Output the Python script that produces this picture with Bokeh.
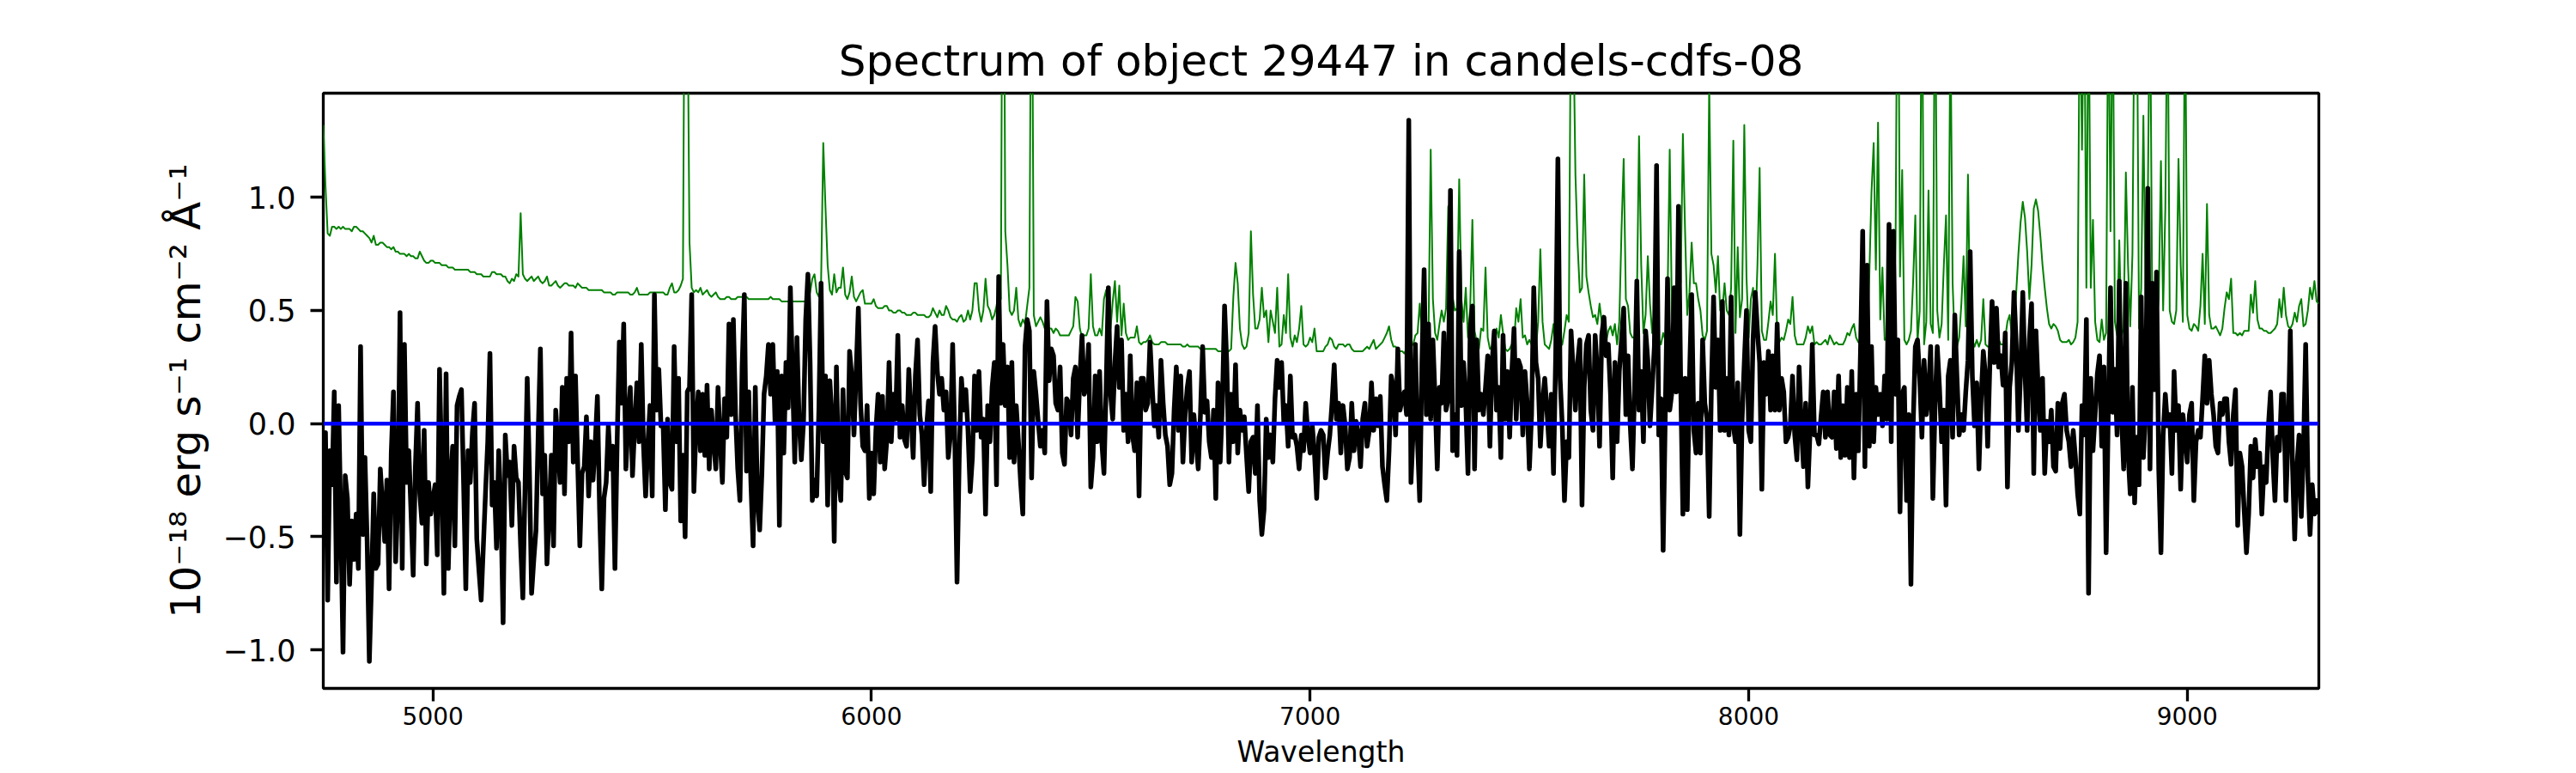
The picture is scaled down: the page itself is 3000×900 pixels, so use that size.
import numpy as np
from bokeh.plotting import figure
from bokeh.models import Range1d, FixedTicker, CustomJSTickFormatter
from bokeh.embed import file_html
from bokeh.resources import INLINE

TITLE = "Spectrum of object 29447 in candels-cdfs-08"
X_LABEL = "Wavelength"
Y_LABEL = "10\u207b\u00b9\u2078 erg s\u207b\u00b9 cm\u207b\u00b2 \u00c5\u207b\u00b9"
X_TICKS = [5000, 6000, 7000, 8000, 9000]
Y_TICKS = [-1.0, -0.5, 0.0, 0.5, 1.0]

# wavelength grid of the extracted spectrum (Angstrom)
WAVE_START = 4750.0
WAVE_STEP = 5.0

# ---- object flux (black), by wavelength block ----
flux_4750 = [-0.40, -0.04, -0.78, -0.12, -0.27, 0.14, -0.70, 0.08, -0.43, -1.01,
             -0.23, -0.33, -0.71, -0.43, -0.60, -0.40, -0.64, 0.34, -0.49, -0.15,
             -0.52, -1.05, -0.70, -0.31, -0.64, -0.62, -0.20, -0.36, -0.52, -0.25,
             -0.73, -0.13, 0.14, -0.61, -0.34, 0.49, -0.64, 0.35, -0.26, -0.12,
             -0.39, -0.67, -0.19, 0.09, -0.31, -0.44, -0.03, -0.62, -0.26, -0.40,
             -0.33, -0.27, -0.58, 0.24, -0.19, -0.75, 0.22, -0.64, -0.26, -0.10,
             -0.54, 0.08, 0.12, 0.15, -0.27, -0.73, -0.12, -0.26, -0.04, 0.09,
             -0.51, -0.65, -0.78, -0.54, -0.30, -0.08, 0.31, -0.36, -0.26, -0.55,
             -0.12, -0.37, -0.88, -0.05, -0.23, -0.17, -0.45, -0.10, -0.24, -0.26,
             -0.54, -0.77, -0.28, 0.20, -0.21, -0.75, -0.60, -0.47, -0.05, 0.33,
             -0.31, -0.14, -0.62, -0.40, -0.14, -0.54, 0.06, -0.10, -0.26, 0.16,
             -0.31, 0.20, -0.08, 0.40, -0.17]
flux_5325 = [0.21, -0.17, -0.54, -0.22, -0.19, 0.03, -0.32, -0.08, -0.25, -0.09,
             0.12, -0.38, -0.73, -0.33, -0.26, -0.01, -0.20, -0.10, -0.64, -0.08,
             0.36, 0.09, 0.44, -0.20, 0.01, 0.16, -0.23, -0.01, 0.18, -0.08,
             0.35, -0.09, -0.32, -0.09, 0.08, -0.32, 0.57, 0.06, 0.24, -0.01,
             -0.01, -0.38, 0.02, -0.26, -0.29, 0.34, -0.08, 0.20, -0.43, -0.14,
             -0.50, 0.14, 0.16, 0.57, -0.30, -0.01, 0.14, -0.12, 0.13, -0.14,
             0.17, -0.20, 0.06, -0.08, -0.20, 0.16, -0.08, -0.26, 0.11, -0.06,
             0.44, 0.04, 0.46, 0.04, -0.20, -0.34, 0.25, 0.57, -0.21, 0.14,
             -0.26, -0.54, 0.16, -0.34, -0.47, -0.22, 0.13, 0.21, 0.35, 0.13,
             0.35, 0.01, 0.23, -0.45, 0.21, -0.13, 0.27, 0.07, 0.60, 0.20,
             -0.17, 0.38, 0.01, -0.16, 0.01, 0.46, 0.66, 0.27, -0.34, -0.25,
             -0.32, 0.06, 0.62, -0.08]
flux_5895 = [0.21, -0.36, 0.19, 0.02, -0.52, 0.25, -0.24, -0.34, 0.15, -0.21,
             -0.24, 0.32, 0.21, -0.05, 0.23, 0.51, 0.09, -0.10, -0.12, 0.08,
             -0.33, -0.13, -0.31, -0.03, 0.13, -0.17, 0.12, -0.20, -0.07, 0.27,
             -0.08, 0.13, 0.02, 0.39, -0.06, 0.08, -0.07, -0.10, 0.24, 0.04,
             -0.15, 0.21, 0.37, 0.04, -0.05, -0.27, -0.03, 0.10, -0.30, 0.27,
             0.43, 0.23, 0.13, 0.20, 0.06, 0.14, -0.15, -0.05, 0.35, -0.08,
             -0.70, -0.15, 0.20, 0.06, 0.15, -0.03, -0.30, -0.15, 0.21, -0.03,
             0.23, -0.06, 0.02, -0.40, 0.08, -0.08, 0.16, 0.27, -0.27, 0.65,
             0.09, 0.35, 0.08, 0.25, -0.15, 0.27, -0.17, 0.08, -0.08, -0.26,
             -0.40, 0.34, 0.46, 0.41, -0.24, 0.23, 0.13, 0.01, -0.10, -0.03,
             -0.13, 0.54, 0.19, 0.33, 0.30, 0.09, 0.06, 0.25, -0.13, -0.18,
             0.11, 0.09, -0.05, 0.20]
flux_6465 = [0.25, -0.06, 0.20, 0.39, 0.13, 0.16, 0.35, -0.28, -0.15, 0.21,
             -0.08, 0.23, -0.08, -0.22, 0.16, 0.60, 0.13, 0.02, 0.27, 0.43,
             0.16, 0.37, -0.03, 0.13, -0.08, 0.30, -0.05, -0.12, 0.18, -0.32,
             0.20, 0.20, 0.06, 0.09, 0.36, 0.16, -0.01, 0.08, -0.06, 0.28,
             0.09, -0.05, -0.10, -0.27, -0.22, 0.06, 0.25, -0.03, 0.21, -0.17,
             0.04, 0.16, 0.23, -0.17, 0.04, -0.08, -0.20, 0.04, 0.34, 0.05,
             0.10, -0.08, -0.15, 0.06, -0.33, 0.18, -0.17, 0.09, 0.52, 0.27,
             -0.17, 0.13, -0.08, 0.26, -0.13, 0.06, -0.03, 0.03, -0.14, -0.30,
             -0.08, -0.06, -0.22, 0.08, -0.34, -0.49, -0.38, 0.02, -0.15, -0.05,
             -0.17, 0.11, 0.28, 0.16, 0.27, 0.01, 0.08, -0.10, 0.21, -0.06,
             -0.05, -0.10, -0.20, -0.05, -0.12, 0.09, -0.05, -0.13, -0.01, -0.13,
             -0.33, -0.06, -0.03]
flux_7030 = [-0.05, -0.24, -0.13, -0.05, 0.09, 0.26, 0.02, 0.09, -0.13, 0.08,
             -0.01, -0.20, -0.15, 0.09, -0.12, 0.01, -0.05, -0.19, 0.02, 0.09,
             -0.10, -0.03, 0.18, -0.03, 0.11, -0.01, 0.12, -0.19, -0.27, -0.34,
             -0.12, 0.21, 0.16, -0.05, 0.33, 0.06, 0.11, 0.14, 0.04, 1.34,
             -0.26, -0.03, 0.35, -0.08, -0.34, 0.27, 0.68, 0.04, 0.44, 0.02,
             0.37, 0.11, -0.20, 0.16, 0.09, 0.40, 0.06, 0.11, 1.03, -0.12,
             0.04, -0.14, 0.76, 0.08, 0.27, 0.09, -0.22, 0.41, 0.52, -0.20,
             0.37, 0.06, 0.13, 0.04, 0.16, 0.30, -0.10, 0.27, 0.41, 0.06,
             0.16, -0.15, 0.39, 0.02, 0.23, -0.06, 0.23, 0.42, 0.02, 0.28,
             0.25, -0.05, 0.23, 0.09, -0.20, 0.04, 0.60, 0.27, 0.20, -0.10,
             0.09, 0.20, 0.06, -0.10, 0.13, -0.22, 0.30, 1.17, 0.20, -0.01,
             -0.34, -0.08, -0.15, 0.41]
flux_7600 = [0.23, 0.06, 0.27, 0.37, -0.36, 0.16, 0.35, 0.39, 0.06, -0.03,
             0.39, 0.23, -0.10, 0.39, 0.47, 0.30, 0.35, 0.13, -0.24, 0.27,
             -0.08, 0.23, 0.37, 0.51, 0.04, 0.30, -0.01, -0.20, 0.16, 0.63,
             0.06, 0.23, -0.08, 0.41, 0.28, -0.01, 0.16, 0.34, 1.14, -0.05,
             0.11, -0.56, 0.06, 0.64, 0.06, 0.14, 0.60, 0.14, 0.96, 0.18,
             -0.40, 0.20, -0.38, 0.20, 0.57, -0.03, -0.13, 0.09, -0.13, 0.37,
             0.09, 0.02, -0.41, 0.16, 0.56, 0.16, 0.37, -0.03, 0.54, -0.03,
             0.20, -0.05, 0.56, -0.01, -0.08, 0.18, -0.49, 0.02, 0.27, 0.50,
             -0.03, -0.08, 0.37, 0.58, 0.41, 0.27, -0.29, 0.27, 0.13, 0.32,
             0.06, 0.30, 0.06, 0.44, 0.06, 0.20, 0.14, -0.08, -0.06, -0.01,
             0.21, -0.05, -0.16, 0.25, -0.01, -0.19, 0.09, -0.28, -0.03, 0.35,
             -0.05, -0.05, -0.09]
flux_8165 = [0.03, 0.14, -0.06, 0.14, -0.05, -0.06, 0.14, -0.11, 0.21, -0.15,
             0.08, -0.14, 0.16, -0.15, 0.23, -0.24, 0.13, -0.12, 0.32, 0.85,
             -0.19, 0.70, -0.10, 0.34, -0.08, 0.16, 0.04, 0.13, -0.01, 0.21,
             0.02, 0.88, -0.08, 0.85, 0.13, 0.37, -0.39, 0.13, 0.16, -0.34,
             0.04, -0.71, -0.01, 0.34, 0.37, 0.20, -0.06, 0.28, 0.04, 0.13,
             0.34, -0.33, 0.08, 0.34, 0.16, -0.08, 0.06, -0.36, 0.21, 0.28,
             -0.06, 0.48, 0.20, -0.05, 0.04, -0.03, 0.14, 0.28, 0.76, 0.21,
             -0.01, 0.18, -0.20, 0.11, 0.32, 0.21, -0.10, 0.27, 0.54, 0.27,
             0.51, 0.25, 0.30, 0.17, 0.40, -0.28, 0.16, 0.27, 0.58, 0.35,
             -0.03, 0.23, 0.58, 0.23, -0.03, 0.37, 0.53, -0.22, 0.41, 0.16,
             -0.03, 0.20, -0.22, 0.01, -0.08, 0.06, -0.19, -0.21, 0.09, -0.11,
             0.09, 0.13, -0.03, -0.08, -0.19, -0.03, -0.15, -0.31, -0.40, 0.08,
             -0.05, 0.46]
flux_8775 = [-0.75, 0.20, -0.12, 0.04, 0.22, 0.30, -0.10, 0.25, -0.57, 0.06,
             0.60, 0.05, 0.24, -0.05, 0.63, 0.04, -0.20, 0.62, -0.13, -0.31,
             0.16, -0.35, -0.06, -0.27, 0.56, -0.15, 0.06, 1.04, -0.20, 0.62,
             0.15, 0.67, -0.20, -0.57, -0.05, 0.13, -0.01, 0.04, -0.22, 0.23,
             -0.03, 0.08, -0.29, 0.04, -0.05, -0.17, 0.04, 0.09, -0.34, -0.08,
             -0.03, -0.06, 0.11, 0.30, 0.09, 0.28, 0.13, 0.04, -0.10, -0.13,
             0.09, 0.04, 0.11, 0.11, -0.08, -0.18, 0.04, 0.15, -0.45, -0.13,
             -0.19, -0.39, -0.57, -0.40, -0.10, -0.24, -0.07, -0.19, -0.13, -0.40,
             -0.19, -0.26, -0.01, 0.14, -0.15, -0.34, -0.06, -0.12, 0.13, 0.13,
             -0.34, -0.05, 0.41, -0.19, -0.51, -0.19, -0.05, -0.41, -0.12, 0.35,
             -0.24, -0.49, -0.27, -0.40, -0.34, -0.40]

# ---- noise / sky spectrum (green) ----
noise_4750 = [1.32, 1.05, 0.84, 0.83, 0.87, 0.87, 0.86, 0.87, 0.86, 0.87,
              0.86, 0.86, 0.86, 0.85, 0.87, 0.87, 0.86, 0.85, 0.85, 0.84,
              0.83, 0.82, 0.80, 0.83, 0.79, 0.79, 0.80, 0.80, 0.79, 0.78,
              0.78, 0.77, 0.78, 0.76, 0.76, 0.75, 0.75, 0.75, 0.74, 0.75,
              0.74, 0.74, 0.73, 0.73, 0.76, 0.74, 0.72, 0.71, 0.71, 0.72,
              0.72, 0.71, 0.71, 0.71, 0.70, 0.70, 0.70, 0.69, 0.69, 0.69,
              0.68, 0.68, 0.68, 0.68, 0.68, 0.68, 0.68, 0.67, 0.67, 0.67,
              0.66, 0.66, 0.66, 0.65, 0.65, 0.65, 0.65, 0.67, 0.67, 0.66,
              0.66, 0.66, 0.65, 0.65, 0.63, 0.62, 0.64, 0.63, 0.66, 0.65,
              0.93, 0.66, 0.64, 0.63, 0.64, 0.65, 0.63, 0.64, 0.65, 0.63,
              0.62, 0.63, 0.65, 0.61, 0.61, 0.62, 0.63, 0.61, 0.60, 0.61,
              0.62, 0.62, 0.61, 0.61, 0.61]
noise_5325 = [0.60, 0.62, 0.61, 0.60, 0.60, 0.60, 0.59, 0.59, 0.59, 0.59,
              0.59, 0.59, 0.59, 0.58, 0.58, 0.58, 0.58, 0.57, 0.57, 0.58,
              0.58, 0.58, 0.58, 0.58, 0.58, 0.57, 0.57, 0.58, 0.60, 0.57,
              0.57, 0.57, 0.57, 0.57, 0.58, 0.58, 0.58, 0.58, 0.58, 0.58,
              0.58, 0.57, 0.57, 0.60, 0.62, 0.58, 0.58, 0.59, 0.61, 0.64,
              2.50, 2.00, 0.80, 0.60, 0.58, 0.59, 0.58, 0.60, 0.57, 0.58,
              0.59, 0.57, 0.56, 0.57, 0.58, 0.56, 0.55, 0.55, 0.55, 0.56,
              0.56, 0.55, 0.55, 0.55, 0.56, 0.56, 0.56, 0.56, 0.56, 0.55,
              0.55, 0.55, 0.55, 0.55, 0.55, 0.55, 0.55, 0.55, 0.55, 0.56,
              0.55, 0.55, 0.55, 0.55, 0.54, 0.54, 0.54, 0.54, 0.54, 0.54,
              0.54, 0.54, 0.54, 0.54, 0.54, 0.54, 0.54, 0.58, 0.64, 0.66,
              0.58, 0.56, 0.62, 1.24]
noise_5895 = [0.96, 0.70, 0.59, 0.57, 0.66, 0.58, 0.60, 0.60, 0.69, 0.57,
              0.55, 0.58, 0.65, 0.56, 0.54, 0.56, 0.58, 0.59, 0.53, 0.53,
              0.53, 0.53, 0.55, 0.52, 0.51, 0.51, 0.51, 0.52, 0.52, 0.50,
              0.50, 0.49, 0.49, 0.50, 0.50, 0.49, 0.49, 0.48, 0.48, 0.48,
              0.49, 0.49, 0.48, 0.48, 0.48, 0.48, 0.47, 0.47, 0.48, 0.51,
              0.49, 0.47, 0.50, 0.48, 0.48, 0.52, 0.50, 0.47, 0.46, 0.46,
              0.45, 0.47, 0.48, 0.45, 0.46, 0.50, 0.46, 0.50, 0.62, 0.62,
              0.50, 0.45, 0.50, 0.64, 0.52, 0.50, 0.46, 0.48, 0.52, 0.58,
              0.55, 3.00, 0.85, 0.70, 0.50, 0.48, 0.50, 0.60, 0.46, 0.43,
              0.46, 0.44, 0.52, 0.60, 2.50, 0.48, 0.43, 0.45, 0.47, 0.45,
              0.42, 0.41, 0.42, 0.42, 0.40, 0.42, 0.41, 0.39, 0.39, 0.39,
              0.39, 0.39, 0.41, 0.43]
noise_6465 = [0.56, 0.54, 0.42, 0.38, 0.39, 0.39, 0.42, 0.66, 0.43, 0.39,
              0.39, 0.42, 0.39, 0.55, 0.59, 0.45, 0.42, 0.54, 0.63, 0.45,
              0.61, 0.39, 0.53, 0.40, 0.37, 0.38, 0.38, 0.38, 0.43, 0.36,
              0.35, 0.36, 0.36, 0.37, 0.39, 0.36, 0.35, 0.35, 0.35, 0.36,
              0.36, 0.36, 0.35, 0.35, 0.35, 0.35, 0.35, 0.35, 0.35, 0.34,
              0.34, 0.35, 0.34, 0.34, 0.34, 0.34, 0.34, 0.33, 0.33, 0.33,
              0.33, 0.33, 0.33, 0.33, 0.33, 0.32, 0.32, 0.32, 0.32, 0.32,
              0.32, 0.33, 0.56, 0.71, 0.62, 0.42, 0.35, 0.33, 0.34, 0.40,
              0.85, 0.57, 0.42, 0.42, 0.46, 0.60, 0.47, 0.50, 0.36, 0.50,
              0.45, 0.40, 0.60, 0.34, 0.35, 0.48, 0.40, 0.66, 0.38, 0.34,
              0.39, 0.36, 0.42, 0.52, 0.35, 0.34, 0.35, 0.38, 0.36, 0.42,
              0.32, 0.32, 0.32]
noise_7030 = [0.32, 0.34, 0.35, 0.38, 0.37, 0.34, 0.33, 0.35, 0.35, 0.35,
              0.34, 0.35, 0.35, 0.33, 0.32, 0.32, 0.32, 0.32, 0.32, 0.33,
              0.34, 0.33, 0.35, 0.37, 0.33, 0.34, 0.35, 0.36, 0.38, 0.40,
              0.43, 0.37, 0.34, 0.34, 0.33, 0.32, 0.32, 0.31, 0.33, 0.34,
              0.34, 0.35, 0.39, 0.40, 0.53, 0.40, 0.38, 0.39, 0.40, 1.21,
              0.55, 0.40, 0.37, 0.44, 0.50, 0.45, 0.51, 0.96, 0.48, 0.56,
              0.50, 0.51, 1.08, 0.55, 0.45, 0.60, 0.38, 0.51, 0.90, 0.41,
              0.36, 0.33, 0.42, 0.41, 0.69, 0.38, 0.33, 0.34, 0.35, 0.42,
              0.38, 0.48, 0.40, 0.33, 0.32, 0.33, 0.35, 0.35, 0.51, 0.45,
              0.55, 0.38, 0.39, 0.35, 0.37, 0.35, 0.33, 0.33, 0.45, 0.77,
              0.45, 0.35, 0.34, 0.33, 0.37, 0.44, 0.32, 0.34, 0.34, 0.35,
              0.41, 0.48, 0.45, 2.00]
noise_7600 = [1.80, 1.10, 0.79, 0.58, 0.60, 1.10, 0.65, 0.58, 0.52, 0.47,
              0.48, 0.44, 0.53, 0.45, 0.37, 0.36, 0.41, 0.43, 0.39, 0.44,
              0.35, 0.45, 0.85, 1.17, 0.55, 0.52, 0.40, 0.38, 0.38, 0.52,
              1.27, 0.70, 0.40, 0.48, 0.74, 0.53, 0.40, 0.50, 0.55, 0.37,
              0.35, 0.40, 0.37, 0.55, 1.21, 0.48, 0.37, 0.50, 0.65, 0.62,
              1.28, 0.85, 0.48, 0.58, 0.80, 0.62, 0.62, 0.55, 0.50, 0.39,
              0.37, 0.41, 1.50, 0.75, 0.70, 0.58, 0.74, 0.50, 0.50, 0.62,
              0.50, 0.48, 0.60, 1.25, 0.40, 0.78, 0.47, 0.55, 1.32, 0.65,
              0.38, 0.55, 0.60, 0.40, 0.70, 1.13, 0.41, 0.37, 0.37, 0.45,
              0.54, 0.48, 0.75, 0.40, 0.36, 0.38, 0.37, 0.41, 0.46, 0.44,
              0.56, 0.39, 0.35, 0.35, 0.35, 0.35, 0.38, 0.43, 0.40, 0.43,
              0.35, 0.36, 0.35]
noise_8165 = [0.35, 0.36, 0.37, 0.35, 0.39, 0.37, 0.35, 0.36, 0.35, 0.35,
              0.35, 0.37, 0.40, 0.39, 0.42, 0.44, 0.38, 0.36, 0.35, 0.35,
              0.34, 0.37, 0.65, 1.02, 1.24, 0.68, 1.33, 0.46, 0.69, 0.37,
              0.38, 0.35, 0.35, 0.42, 0.80, 2.50, 0.65, 1.12, 0.37, 0.35,
              0.37, 0.41, 0.63, 0.92, 0.36, 0.50, 2.20, 0.35, 0.45, 1.03,
              0.44, 0.40, 2.20, 0.50, 0.38, 0.44, 0.70, 0.92, 0.37, 1.80,
              0.62, 0.35, 0.34, 0.38, 0.53, 0.74, 0.43, 1.10, 0.44, 0.37,
              0.34, 0.37, 0.34, 0.37, 0.55, 0.35, 0.34, 0.34, 0.34, 0.34,
              0.35, 0.37, 0.35, 0.35, 0.38, 0.45, 0.48, 0.39, 0.45, 0.58,
              0.75, 0.89, 0.98, 0.91, 0.76, 0.55, 0.70, 0.95, 0.99, 0.94,
              0.83, 0.70, 0.60, 0.51, 0.44, 0.42, 0.44, 0.43, 0.41, 0.37,
              0.36, 0.36, 0.36, 0.37, 0.35, 0.36, 0.38, 0.45, 2.00, 1.21,
              2.00, 0.60]
noise_8775 = [2.00, 0.60, 0.90, 0.45, 0.37, 0.36, 0.46, 0.37, 0.40, 2.00,
              0.85, 2.00, 0.45, 0.39, 0.81, 0.39, 0.42, 1.11, 0.70, 0.43,
              0.75, 2.00, 2.00, 0.42, 0.60, 1.36, 0.55, 0.97, 2.00, 0.55,
              0.46, 0.45, 0.55, 1.16, 0.50, 0.95, 2.00, 0.50, 0.45, 0.44,
              0.50, 1.17, 0.70, 0.45, 2.00, 0.48, 0.42, 0.41, 0.44, 0.43,
              0.41, 0.52, 0.75, 0.44, 0.97, 0.48, 0.42, 0.42, 0.43, 0.41,
              0.39, 0.42, 0.51, 0.58, 0.55, 0.64, 0.40, 0.40, 0.39, 0.40,
              0.39, 0.41, 0.41, 0.41, 0.57, 0.49, 0.63, 0.46, 0.42, 0.42,
              0.41, 0.41, 0.40, 0.40, 0.41, 0.42, 0.44, 0.55, 0.47, 0.60,
              0.48, 0.43, 0.42, 0.44, 0.49, 0.45, 0.52, 0.55, 0.43, 0.44,
              0.50, 0.60, 0.55, 0.63, 0.54, 0.53]

# ---- fitted model (blue): flat at zero across the range ----
model_wave = [4750.0, 9300.0]
model_flux = [0.0, 0.0]

flux = (flux_4750 + flux_5325 + flux_5895 + flux_6465 +
        flux_7030 + flux_7600 + flux_8165 + flux_8775)
noise = (noise_4750 + noise_5325 + noise_5895 + noise_6465 +
         noise_7030 + noise_7600 + noise_8165 + noise_8775)
wave_flux = WAVE_START + WAVE_STEP * np.arange(len(flux))
wave_noise = WAVE_START + WAVE_STEP * np.arange(len(noise))

FONT = "DejaVu Sans"

p = figure(width=2984, height=898, output_backend="svg", toolbar_location=None,
           x_range=Range1d(4750, 9300), y_range=Range1d(-1.17, 1.46),
           min_border_left=376, min_border_right=284,
           min_border_top=108, min_border_bottom=97,
           title=TITLE)
p.background_fill_color = "white"
p.border_fill_color = "white"
p.grid.visible = False
p.outline_line_color = "black"
p.outline_line_width = 3.3

p.title.text_font = FONT
p.title.text_font_size = "50px"
p.title.text_font_style = "normal"
p.title.text_color = "black"
p.title.align = "center"
p.title.standoff = 17

for ax in (p.xaxis[0], p.yaxis[0]):
    ax.axis_line_color = None
    ax.major_tick_out = 15
    ax.major_tick_in = 0
    ax.major_tick_line_width = 3.3
    ax.major_tick_line_color = "black"
    ax.minor_tick_line_color = None
    ax.major_label_text_font = FONT
    ax.major_label_text_color = "black"
    ax.axis_label_text_font = FONT
    ax.axis_label_text_font_style = "normal"
    ax.axis_label_text_color = "black"

xa = p.xaxis[0]
xa.ticker = FixedTicker(ticks=X_TICKS)
xa.major_label_text_font_size = "28px"
xa.major_label_standoff = 6
xa.axis_label = X_LABEL
xa.axis_label_text_font_size = "33px"
xa.axis_label_standoff = 9

ya = p.yaxis[0]
ya.ticker = FixedTicker(ticks=Y_TICKS)
ya.formatter = CustomJSTickFormatter(code="return tick.toFixed(1).replace('-', '\u2212');")
ya.major_label_text_font_size = "35px"
ya.major_label_standoff = 17
ya.axis_label = Y_LABEL
ya.axis_label_text_font_size = "48px"
ya.axis_label_standoff = 13

p.line(wave_noise, noise, line_color="#008000", line_width=2, line_join="round")
p.line(wave_flux, flux, line_color="black", line_width=5.5, line_join="round")
p.line(model_wave, model_flux, line_color="#0000ff", line_width=4.5)

open("out.html", "w").write(file_html(p, INLINE))
